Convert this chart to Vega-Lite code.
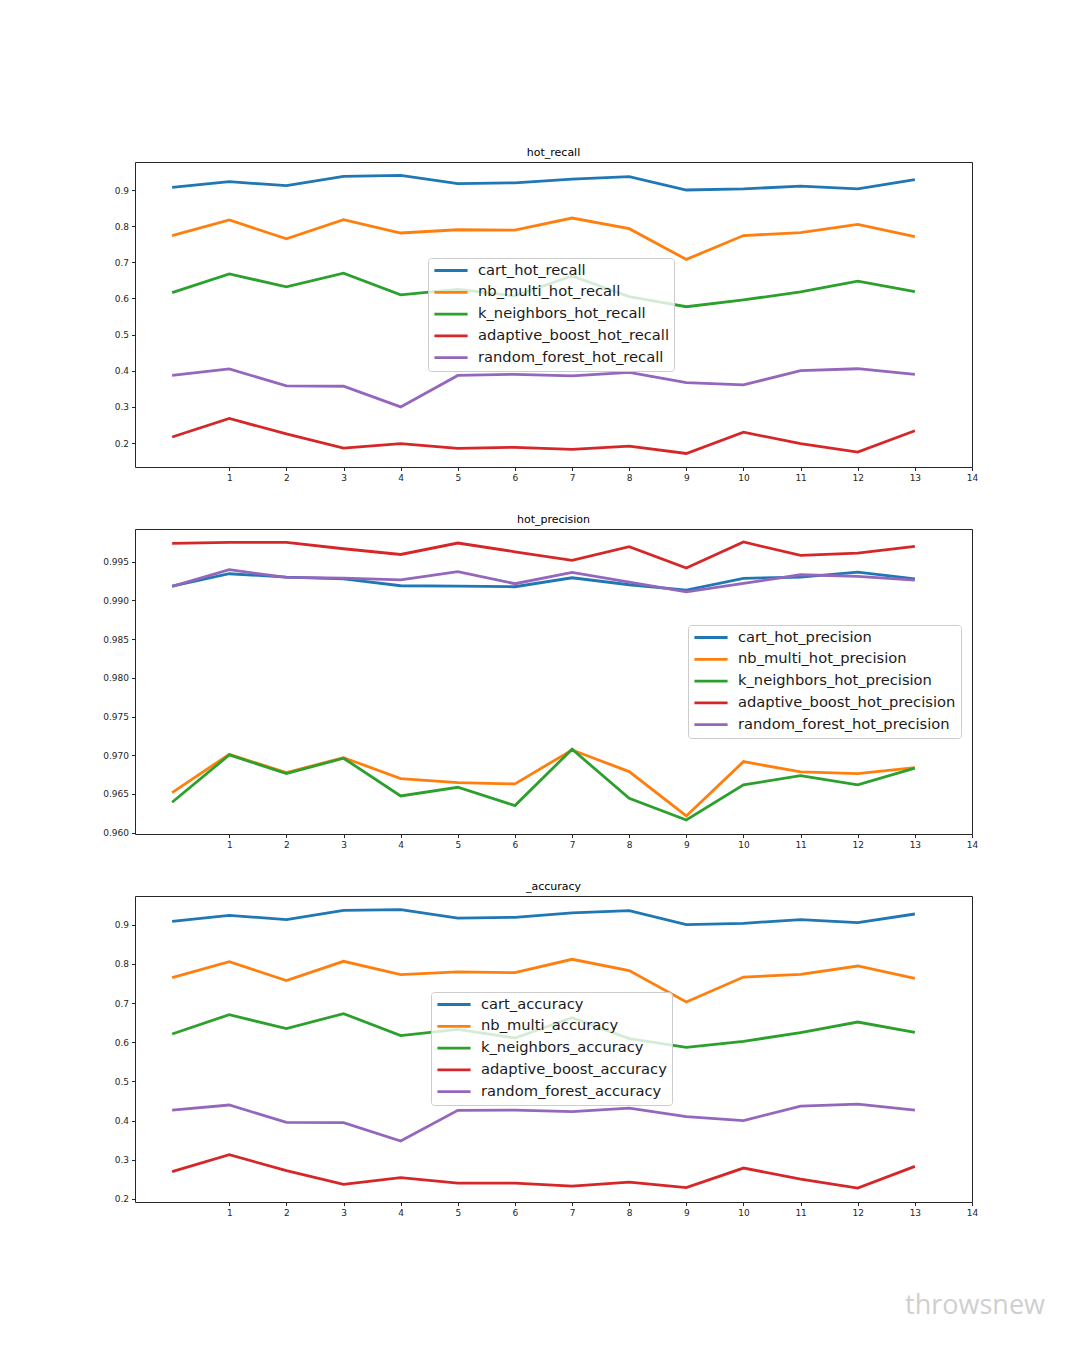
{
  "$schema": "https://vega.github.io/schema/vega-lite/v6.json",
  "background": "white",
  "padding": {"left": 94, "top": 146, "right": 5, "bottom": 5},
  "spacing": 25,
  "title": {
    "text": "throwsnew",
    "orient": "bottom",
    "anchor": "end",
    "offset": 70,
    "dx": 73,
    "fontSize": 27,
    "fontWeight": "normal",
    "font": "Open Sans",
    "color": "#cfcfcf"
  },
  "config": {
    "font": "DejaVu Sans",
    "view": {"stroke": "#262626", "strokeWidth": 1},
    "axis": {
      "grid": false,
      "domain": false,
      "tickColor": "#262626",
      "tickSize": 3.5,
      "labelFontSize": 9,
      "labelColor": "#262626",
      "labelPadding": 3,
      "labelOverlap": false
    },
    "axisX": {"labelFlush": false, "minExtent": 20, "maxExtent": 20},
    "axisY": {"minExtent": 40, "maxExtent": 40},
    "title": {"fontSize": 11, "fontWeight": "normal", "color": "#000000", "offset": 4, "frame": "group", "anchor": "middle"},
    "legend": {
      "orient": "none",
      "title": null,
      "symbolType": "stroke",
      "symbolSize": 1100,
      "symbolStrokeWidth": 2.8,
      "clipHeight": 15,
      "labelFontSize": 14.7,
      "labelLimit": 600,
      "labelColor": "#1a1a1a",
      "labelOffset": 9,
      "rowPadding": 5.8,
      "padding": 5,
      "fillColor": "rgba(255,255,255,0.8)",
      "strokeColor": "#cccccc",
      "cornerRadius": 3
    }
  },
  "resolve": {"scale": {"color": "independent"}, "legend": {"color": "independent"}},
  "datasets": {
    "hot_recall": [
      {"series": "cart_hot_recall", "run": 0, "value": 0.9075},
      {"series": "cart_hot_recall", "run": 1, "value": 0.923},
      {"series": "cart_hot_recall", "run": 2, "value": 0.912},
      {"series": "cart_hot_recall", "run": 3, "value": 0.938},
      {"series": "cart_hot_recall", "run": 4, "value": 0.9405},
      {"series": "cart_hot_recall", "run": 5, "value": 0.9175},
      {"series": "cart_hot_recall", "run": 6, "value": 0.920},
      {"series": "cart_hot_recall", "run": 7, "value": 0.930},
      {"series": "cart_hot_recall", "run": 8, "value": 0.937},
      {"series": "cart_hot_recall", "run": 9, "value": 0.900},
      {"series": "cart_hot_recall", "run": 10, "value": 0.903},
      {"series": "cart_hot_recall", "run": 11, "value": 0.911},
      {"series": "cart_hot_recall", "run": 12, "value": 0.903},
      {"series": "cart_hot_recall", "run": 13, "value": 0.9286},
      {"series": "nb_multi_hot_recall", "run": 0, "value": 0.7736},
      {"series": "nb_multi_hot_recall", "run": 1, "value": 0.817},
      {"series": "nb_multi_hot_recall", "run": 2, "value": 0.765},
      {"series": "nb_multi_hot_recall", "run": 3, "value": 0.818},
      {"series": "nb_multi_hot_recall", "run": 4, "value": 0.781},
      {"series": "nb_multi_hot_recall", "run": 5, "value": 0.790},
      {"series": "nb_multi_hot_recall", "run": 6, "value": 0.789},
      {"series": "nb_multi_hot_recall", "run": 7, "value": 0.8225},
      {"series": "nb_multi_hot_recall", "run": 8, "value": 0.793},
      {"series": "nb_multi_hot_recall", "run": 9, "value": 0.708},
      {"series": "nb_multi_hot_recall", "run": 10, "value": 0.774},
      {"series": "nb_multi_hot_recall", "run": 11, "value": 0.782},
      {"series": "nb_multi_hot_recall", "run": 12, "value": 0.805},
      {"series": "nb_multi_hot_recall", "run": 13, "value": 0.771},
      {"series": "k_neighbors_hot_recall", "run": 0, "value": 0.616},
      {"series": "k_neighbors_hot_recall", "run": 1, "value": 0.668},
      {"series": "k_neighbors_hot_recall", "run": 2, "value": 0.632},
      {"series": "k_neighbors_hot_recall", "run": 3, "value": 0.670},
      {"series": "k_neighbors_hot_recall", "run": 4, "value": 0.610},
      {"series": "k_neighbors_hot_recall", "run": 5, "value": 0.625},
      {"series": "k_neighbors_hot_recall", "run": 6, "value": 0.607},
      {"series": "k_neighbors_hot_recall", "run": 7, "value": 0.662},
      {"series": "k_neighbors_hot_recall", "run": 8, "value": 0.605},
      {"series": "k_neighbors_hot_recall", "run": 9, "value": 0.577},
      {"series": "k_neighbors_hot_recall", "run": 10, "value": 0.596},
      {"series": "k_neighbors_hot_recall", "run": 11, "value": 0.618},
      {"series": "k_neighbors_hot_recall", "run": 12, "value": 0.648},
      {"series": "k_neighbors_hot_recall", "run": 13, "value": 0.619},
      {"series": "adaptive_boost_hot_recall", "run": 0, "value": 0.2165},
      {"series": "adaptive_boost_hot_recall", "run": 1, "value": 0.268},
      {"series": "adaptive_boost_hot_recall", "run": 2, "value": 0.225},
      {"series": "adaptive_boost_hot_recall", "run": 3, "value": 0.186},
      {"series": "adaptive_boost_hot_recall", "run": 4, "value": 0.198},
      {"series": "adaptive_boost_hot_recall", "run": 5, "value": 0.185},
      {"series": "adaptive_boost_hot_recall", "run": 6, "value": 0.188},
      {"series": "adaptive_boost_hot_recall", "run": 7, "value": 0.1825},
      {"series": "adaptive_boost_hot_recall", "run": 8, "value": 0.1915},
      {"series": "adaptive_boost_hot_recall", "run": 9, "value": 0.171},
      {"series": "adaptive_boost_hot_recall", "run": 10, "value": 0.230},
      {"series": "adaptive_boost_hot_recall", "run": 11, "value": 0.198},
      {"series": "adaptive_boost_hot_recall", "run": 12, "value": 0.175},
      {"series": "adaptive_boost_hot_recall", "run": 13, "value": 0.234},
      {"series": "random_forest_hot_recall", "run": 0, "value": 0.387},
      {"series": "random_forest_hot_recall", "run": 1, "value": 0.405},
      {"series": "random_forest_hot_recall", "run": 2, "value": 0.358},
      {"series": "random_forest_hot_recall", "run": 3, "value": 0.357},
      {"series": "random_forest_hot_recall", "run": 4, "value": 0.300},
      {"series": "random_forest_hot_recall", "run": 5, "value": 0.387},
      {"series": "random_forest_hot_recall", "run": 6, "value": 0.390},
      {"series": "random_forest_hot_recall", "run": 7, "value": 0.386},
      {"series": "random_forest_hot_recall", "run": 8, "value": 0.3955},
      {"series": "random_forest_hot_recall", "run": 9, "value": 0.367},
      {"series": "random_forest_hot_recall", "run": 10, "value": 0.361},
      {"series": "random_forest_hot_recall", "run": 11, "value": 0.400},
      {"series": "random_forest_hot_recall", "run": 12, "value": 0.4055},
      {"series": "random_forest_hot_recall", "run": 13, "value": 0.390}
    ],
    "hot_precision": [
      {"series": "cart_hot_precision", "run": 0, "value": 0.99186},
      {"series": "cart_hot_precision", "run": 1, "value": 0.99345},
      {"series": "cart_hot_precision", "run": 2, "value": 0.99302},
      {"series": "cart_hot_precision", "run": 3, "value": 0.9928},
      {"series": "cart_hot_precision", "run": 4, "value": 0.9919},
      {"series": "cart_hot_precision", "run": 5, "value": 0.99186},
      {"series": "cart_hot_precision", "run": 6, "value": 0.99177},
      {"series": "cart_hot_precision", "run": 7, "value": 0.99293},
      {"series": "cart_hot_precision", "run": 8, "value": 0.99203},
      {"series": "cart_hot_precision", "run": 9, "value": 0.99134},
      {"series": "cart_hot_precision", "run": 10, "value": 0.99284},
      {"series": "cart_hot_precision", "run": 11, "value": 0.99302},
      {"series": "cart_hot_precision", "run": 12, "value": 0.99367},
      {"series": "cart_hot_precision", "run": 13, "value": 0.9928},
      {"series": "nb_multi_hot_precision", "run": 0, "value": 0.96517},
      {"series": "nb_multi_hot_precision", "run": 1, "value": 0.97013},
      {"series": "nb_multi_hot_precision", "run": 2, "value": 0.96776},
      {"series": "nb_multi_hot_precision", "run": 3, "value": 0.9697},
      {"series": "nb_multi_hot_precision", "run": 4, "value": 0.96698},
      {"series": "nb_multi_hot_precision", "run": 5, "value": 0.96646},
      {"series": "nb_multi_hot_precision", "run": 6, "value": 0.9663},
      {"series": "nb_multi_hot_precision", "run": 7, "value": 0.97069},
      {"series": "nb_multi_hot_precision", "run": 8, "value": 0.96789},
      {"series": "nb_multi_hot_precision", "run": 9, "value": 0.96216},
      {"series": "nb_multi_hot_precision", "run": 10, "value": 0.96918},
      {"series": "nb_multi_hot_precision", "run": 11, "value": 0.96785},
      {"series": "nb_multi_hot_precision", "run": 12, "value": 0.96763},
      {"series": "nb_multi_hot_precision", "run": 13, "value": 0.9684},
      {"series": "k_neighbors_hot_precision", "run": 0, "value": 0.96393},
      {"series": "k_neighbors_hot_precision", "run": 1, "value": 0.97005},
      {"series": "k_neighbors_hot_precision", "run": 2, "value": 0.96763},
      {"series": "k_neighbors_hot_precision", "run": 3, "value": 0.96962},
      {"series": "k_neighbors_hot_precision", "run": 4, "value": 0.96474},
      {"series": "k_neighbors_hot_precision", "run": 5, "value": 0.96587},
      {"series": "k_neighbors_hot_precision", "run": 6, "value": 0.9635},
      {"series": "k_neighbors_hot_precision", "run": 7, "value": 0.97078},
      {"series": "k_neighbors_hot_precision", "run": 8, "value": 0.96444},
      {"series": "k_neighbors_hot_precision", "run": 9, "value": 0.96164},
      {"series": "k_neighbors_hot_precision", "run": 10, "value": 0.96617},
      {"series": "k_neighbors_hot_precision", "run": 11, "value": 0.96737},
      {"series": "k_neighbors_hot_precision", "run": 12, "value": 0.96617},
      {"series": "k_neighbors_hot_precision", "run": 13, "value": 0.96833},
      {"series": "adaptive_boost_hot_precision", "run": 0, "value": 0.99737},
      {"series": "adaptive_boost_hot_precision", "run": 1, "value": 0.9975},
      {"series": "adaptive_boost_hot_precision", "run": 2, "value": 0.9975},
      {"series": "adaptive_boost_hot_precision", "run": 3, "value": 0.99668},
      {"series": "adaptive_boost_hot_precision", "run": 4, "value": 0.99594},
      {"series": "adaptive_boost_hot_precision", "run": 5, "value": 0.99742},
      {"series": "adaptive_boost_hot_precision", "run": 6, "value": 0.99629},
      {"series": "adaptive_boost_hot_precision", "run": 7, "value": 0.99517},
      {"series": "adaptive_boost_hot_precision", "run": 8, "value": 0.99694},
      {"series": "adaptive_boost_hot_precision", "run": 9, "value": 0.99418},
      {"series": "adaptive_boost_hot_precision", "run": 10, "value": 0.99755},
      {"series": "adaptive_boost_hot_precision", "run": 11, "value": 0.99582},
      {"series": "adaptive_boost_hot_precision", "run": 12, "value": 0.99612},
      {"series": "adaptive_boost_hot_precision", "run": 13, "value": 0.99698},
      {"series": "random_forest_hot_precision", "run": 0, "value": 0.99182},
      {"series": "random_forest_hot_precision", "run": 1, "value": 0.99397},
      {"series": "random_forest_hot_precision", "run": 2, "value": 0.99297},
      {"series": "random_forest_hot_precision", "run": 3, "value": 0.99289},
      {"series": "random_forest_hot_precision", "run": 4, "value": 0.99267},
      {"series": "random_forest_hot_precision", "run": 5, "value": 0.99371},
      {"series": "random_forest_hot_precision", "run": 6, "value": 0.99216},
      {"series": "random_forest_hot_precision", "run": 7, "value": 0.99362},
      {"series": "random_forest_hot_precision", "run": 8, "value": 0.99237},
      {"series": "random_forest_hot_precision", "run": 9, "value": 0.99112},
      {"series": "random_forest_hot_precision", "run": 10, "value": 0.9922},
      {"series": "random_forest_hot_precision", "run": 11, "value": 0.99332},
      {"series": "random_forest_hot_precision", "run": 12, "value": 0.9931},
      {"series": "random_forest_hot_precision", "run": 13, "value": 0.99263}
    ],
    "accuracy": [
      {"series": "cart_accuracy", "run": 0, "value": 0.9084},
      {"series": "cart_accuracy", "run": 1, "value": 0.9237},
      {"series": "cart_accuracy", "run": 2, "value": 0.9127},
      {"series": "cart_accuracy", "run": 3, "value": 0.9365},
      {"series": "cart_accuracy", "run": 4, "value": 0.9383},
      {"series": "cart_accuracy", "run": 5, "value": 0.9168},
      {"series": "cart_accuracy", "run": 6, "value": 0.9186},
      {"series": "cart_accuracy", "run": 7, "value": 0.9297},
      {"series": "cart_accuracy", "run": 8, "value": 0.9357},
      {"series": "cart_accuracy", "run": 9, "value": 0.900},
      {"series": "cart_accuracy", "run": 10, "value": 0.9034},
      {"series": "cart_accuracy", "run": 11, "value": 0.9127},
      {"series": "cart_accuracy", "run": 12, "value": 0.9051},
      {"series": "cart_accuracy", "run": 13, "value": 0.9271},
      {"series": "nb_multi_accuracy", "run": 0, "value": 0.7647},
      {"series": "nb_multi_accuracy", "run": 1, "value": 0.8055},
      {"series": "nb_multi_accuracy", "run": 2, "value": 0.7571},
      {"series": "nb_multi_accuracy", "run": 3, "value": 0.8064},
      {"series": "nb_multi_accuracy", "run": 4, "value": 0.7724},
      {"series": "nb_multi_accuracy", "run": 5, "value": 0.7792},
      {"series": "nb_multi_accuracy", "run": 6, "value": 0.7775},
      {"series": "nb_multi_accuracy", "run": 7, "value": 0.8115},
      {"series": "nb_multi_accuracy", "run": 8, "value": 0.7826},
      {"series": "nb_multi_accuracy", "run": 9, "value": 0.7026},
      {"series": "nb_multi_accuracy", "run": 10, "value": 0.7663},
      {"series": "nb_multi_accuracy", "run": 11, "value": 0.7732},
      {"series": "nb_multi_accuracy", "run": 12, "value": 0.7944},
      {"series": "nb_multi_accuracy", "run": 13, "value": 0.763},
      {"series": "k_neighbors_accuracy", "run": 0, "value": 0.6209},
      {"series": "k_neighbors_accuracy", "run": 1, "value": 0.6703},
      {"series": "k_neighbors_accuracy", "run": 2, "value": 0.6346},
      {"series": "k_neighbors_accuracy", "run": 3, "value": 0.6729},
      {"series": "k_neighbors_accuracy", "run": 4, "value": 0.6168},
      {"series": "k_neighbors_accuracy", "run": 5, "value": 0.6329},
      {"series": "k_neighbors_accuracy", "run": 6, "value": 0.6107},
      {"series": "k_neighbors_accuracy", "run": 7, "value": 0.6627},
      {"series": "k_neighbors_accuracy", "run": 8, "value": 0.609},
      {"series": "k_neighbors_accuracy", "run": 9, "value": 0.5869},
      {"series": "k_neighbors_accuracy", "run": 10, "value": 0.6022},
      {"series": "k_neighbors_accuracy", "run": 11, "value": 0.6244},
      {"series": "k_neighbors_accuracy", "run": 12, "value": 0.6515},
      {"series": "k_neighbors_accuracy", "run": 13, "value": 0.6252},
      {"series": "adaptive_boost_accuracy", "run": 0, "value": 0.2697},
      {"series": "adaptive_boost_accuracy", "run": 1, "value": 0.3131},
      {"series": "adaptive_boost_accuracy", "run": 2, "value": 0.2722},
      {"series": "adaptive_boost_accuracy", "run": 3, "value": 0.2373},
      {"series": "adaptive_boost_accuracy", "run": 4, "value": 0.2544},
      {"series": "adaptive_boost_accuracy", "run": 5, "value": 0.2407},
      {"series": "adaptive_boost_accuracy", "run": 6, "value": 0.2407},
      {"series": "adaptive_boost_accuracy", "run": 7, "value": 0.233},
      {"series": "adaptive_boost_accuracy", "run": 8, "value": 0.2432},
      {"series": "adaptive_boost_accuracy", "run": 9, "value": 0.2288},
      {"series": "adaptive_boost_accuracy", "run": 10, "value": 0.2789},
      {"series": "adaptive_boost_accuracy", "run": 11, "value": 0.2509},
      {"series": "adaptive_boost_accuracy", "run": 12, "value": 0.2279},
      {"series": "adaptive_boost_accuracy", "run": 13, "value": 0.2832},
      {"series": "random_forest_accuracy", "run": 0, "value": 0.4269},
      {"series": "random_forest_accuracy", "run": 1, "value": 0.4397},
      {"series": "random_forest_accuracy", "run": 2, "value": 0.3955},
      {"series": "random_forest_accuracy", "run": 3, "value": 0.3947},
      {"series": "random_forest_accuracy", "run": 4, "value": 0.3478},
      {"series": "random_forest_accuracy", "run": 5, "value": 0.4262},
      {"series": "random_forest_accuracy", "run": 6, "value": 0.4269},
      {"series": "random_forest_accuracy", "run": 7, "value": 0.4228},
      {"series": "random_forest_accuracy", "run": 8, "value": 0.432},
      {"series": "random_forest_accuracy", "run": 9, "value": 0.41},
      {"series": "random_forest_accuracy", "run": 10, "value": 0.3999},
      {"series": "random_forest_accuracy", "run": 11, "value": 0.4371},
      {"series": "random_forest_accuracy", "run": 12, "value": 0.4422},
      {"series": "random_forest_accuracy", "run": 13, "value": 0.4269}
    ]
  },
  "vconcat": [
    {
      "title": "hot_recall",
      "width": 837,
      "height": 305,
      "data": {"name": "hot_recall"},
      "mark": {"type": "line", "strokeWidth": 2.8},
      "encoding": {
        "x": {
          "field": "run", "type": "quantitative",
          "scale": {"domain": [-0.65, 14], "nice": false, "zero": false},
          "axis": {"title": null, "values": [1, 2, 3, 4, 5, 6, 7, 8, 9, 10, 11, 12, 13, 14], "format": "d"}
        },
        "y": {
          "field": "value", "type": "quantitative",
          "scale": {"domain": [0.1336, 0.9775], "nice": false, "zero": false},
          "axis": {"title": null, "values": [0.2, 0.3, 0.4, 0.5, 0.6, 0.7, 0.8, 0.9], "format": ".1f"}
        },
        "color": {
          "field": "series", "type": "nominal",
          "scale": {
            "domain": ["cart_hot_recall", "nb_multi_hot_recall", "k_neighbors_hot_recall", "adaptive_boost_hot_recall", "random_forest_hot_recall"],
            "range": ["#1f77b4", "#ff7f0e", "#2ca02c", "#d62728", "#9467bd"]
          },
          "legend": {"legendX": 293, "legendY": 96}
        }
      }
    },
    {
      "title": "hot_precision",
      "width": 837,
      "height": 305,
      "data": {"name": "hot_precision"},
      "mark": {"type": "line", "strokeWidth": 2.8},
      "encoding": {
        "x": {
          "field": "run", "type": "quantitative",
          "scale": {"domain": [-0.65, 14], "nice": false, "zero": false},
          "axis": {"title": null, "values": [1, 2, 3, 4, 5, 6, 7, 8, 9, 10, 11, 12, 13, 14], "format": "d"}
        },
        "y": {
          "field": "value", "type": "quantitative",
          "scale": {"domain": [0.95983, 0.99923], "nice": false, "zero": false},
          "axis": {"title": null, "values": [0.96, 0.965, 0.97, 0.975, 0.98, 0.985, 0.99, 0.995], "format": ".3f"}
        },
        "color": {
          "field": "series", "type": "nominal",
          "scale": {
            "domain": ["cart_hot_precision", "nb_multi_hot_precision", "k_neighbors_hot_precision", "adaptive_boost_hot_precision", "random_forest_hot_precision"],
            "range": ["#1f77b4", "#ff7f0e", "#2ca02c", "#d62728", "#9467bd"]
          },
          "legend": {"legendX": 553, "legendY": 96}
        }
      }
    },
    {
      "title": "_accuracy",
      "width": 837,
      "height": 306,
      "data": {"name": "accuracy"},
      "mark": {"type": "line", "strokeWidth": 2.8},
      "encoding": {
        "x": {
          "field": "run", "type": "quantitative",
          "scale": {"domain": [-0.65, 14], "nice": false, "zero": false},
          "axis": {"title": null, "values": [1, 2, 3, 4, 5, 6, 7, 8, 9, 10, 11, 12, 13, 14], "format": "d"}
        },
        "y": {
          "field": "value", "type": "quantitative",
          "scale": {"domain": [0.1923, 0.973], "nice": false, "zero": false},
          "axis": {"title": null, "values": [0.2, 0.3, 0.4, 0.5, 0.6, 0.7, 0.8, 0.9], "format": ".1f"}
        },
        "color": {
          "field": "series", "type": "nominal",
          "scale": {
            "domain": ["cart_accuracy", "nb_multi_accuracy", "k_neighbors_accuracy", "adaptive_boost_accuracy", "random_forest_accuracy"],
            "range": ["#1f77b4", "#ff7f0e", "#2ca02c", "#d62728", "#9467bd"]
          },
          "legend": {"legendX": 296, "legendY": 96}
        }
      }
    }
  ]
}
